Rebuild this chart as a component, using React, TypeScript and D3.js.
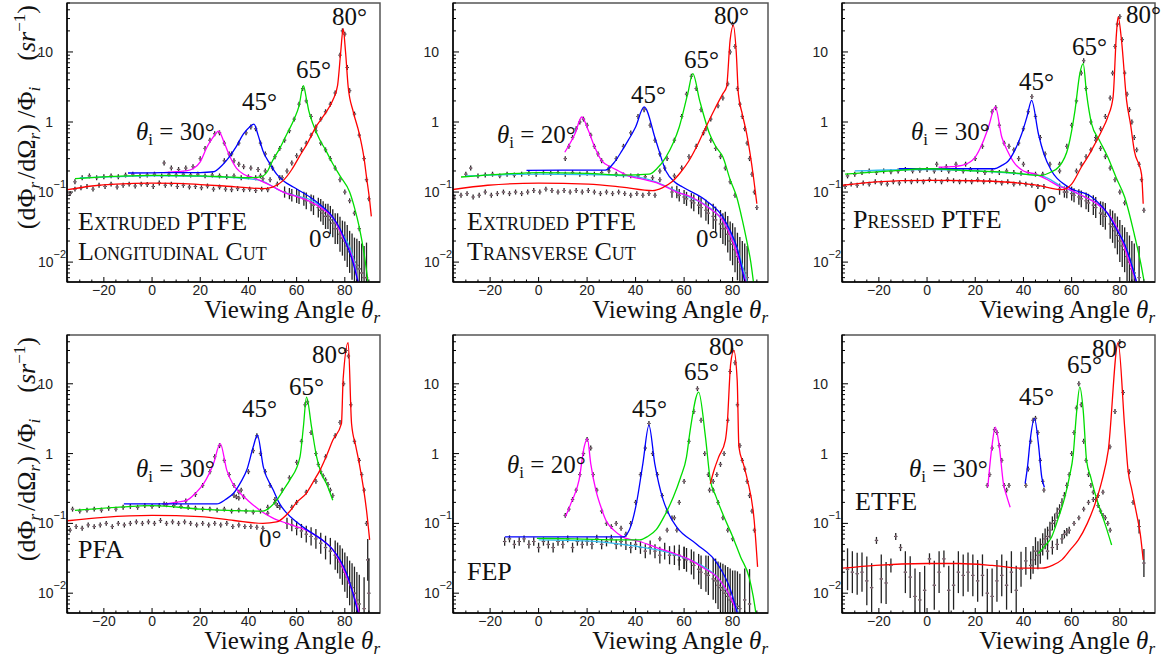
import React from 'react';
import * as d3 from 'd3';

type XY = [number, number];
type Pt = number[]; // [x, y, errDecades?]

// ---------------- DATA ----------------
const X_TICKS = [-20, 0, 20, 40, 60, 80];
const Y_TICKS = [
  { v: 10, base: '10', exp: '' },
  { v: 1, base: '1', exp: '' },
  { v: 0.1, base: '10', exp: '−1' },
  { v: 0.01, base: '10', exp: '−2' },
];
const X_DOMAIN: [number, number] = [-35.3, 94.6];
const Y_DOMAIN: [number, number] = [0.0052, 50];

// ---- Panel 1: Extruded PTFE, longitudinal cut ----
const LONG_C0: XY[] = [[-30,0.16],[-10,0.168],[0,0.17],[20,0.168],[35,0.16],[45,0.146],[54.5,0.1],[60,0.088],[66,0.077],[72,0.055],[75,0.042],[79,0.025],[82,0.0165],[84,0.01],[85.5,0.0052]];
const LONG_C30: XY[] = [[4.8,0.19],[10,0.195],[14,0.2],[17,0.215],[20,0.27],[22.8,0.44],[25.5,0.62],[27.6,0.74],[30,0.5],[32.4,0.316],[35,0.22],[38,0.18],[42,0.16],[45,0.146],[50,0.12],[54.5,0.1],[60,0.086],[65,0.075],[70,0.06],[75,0.043],[80,0.02],[83,0.012],[85.5,0.0052]];
const LONG_C45: XY[] = [[-10,0.187],[0,0.188],[10,0.19],[20,0.19],[25.5,0.195],[29,0.24],[32,0.316],[35,0.45],[38,0.68],[40.5,0.85],[42.3,0.93],[44,0.65],[46,0.39],[49,0.25],[51.7,0.18],[55,0.14],[58.6,0.118],[65.5,0.085],[70,0.065],[75,0.044],[78,0.03],[80.7,0.018],[83,0.011],[85.5,0.0052]];
const LONG_C65: XY[] = [[-32,0.155],[-20,0.165],[-10,0.17],[0,0.173],[10,0.172],[20,0.17],[30,0.165],[40,0.16],[45,0.165],[48,0.2],[50,0.28],[53,0.42],[56,0.68],[59,1.1],[61,1.7],[62.8,3.3],[64,2.2],[65,1.47],[67,0.9],[69.7,0.55],[72,0.4],[75,0.254],[78,0.17],[82,0.1],[84,0.06],[86,0.0316],[88,0.0132],[89.7,0.005]];
const LONG_C80: XY[] = [[-35,0.108],[-25,0.122],[-15,0.13],[0,0.134],[10,0.133],[20,0.128],[30,0.122],[40,0.115],[46,0.112],[50,0.118],[54.5,0.147],[58,0.21],[61,0.316],[64.5,0.5],[68,0.85],[72,1.35],[75,2.04],[77,3.34],[78.3,10],[79.3,21.5],[80.3,10],[81.4,3.16],[83.5,1.4],[86,0.68],[88,0.3],[89,0.164],[90.3,0.076],[91,0.045]];
const LONG_P_LOW: Pt[] = [[-34,0.095],[-32,0.11],[-29.5,0.115],[-27,0.12],[-24.5,0.11],[-22,0.125],[-19.5,0.12],[-17,0.13],[-14.5,0.118],[-12,0.125],[-9.5,0.13],[-7,0.122],[-4.5,0.13],[-2,0.128],[0.5,0.12],[3,0.135],[5.5,0.125],[8,0.13],[10.5,0.12],[13,0.125],[15.5,0.118],[18,0.12],[20.5,0.115],[23,0.122],[25.5,0.11],[28,0.118],[30.5,0.11],[33,0.108],[35.5,0.112],[38,0.108],[40.5,0.11],[43,0.105],[45.5,0.11],[48,0.108]];
const LONG_P_UP: Pt[] = [[-32,0.14],[-29,0.16],[-26,0.17],[-23,0.16],[-20,0.165],[-17,0.17],[-14,0.165],[-11,0.175],[-8,0.18],[-5,0.17],[-2,0.175],[1,0.18],[4,0.17],[7,0.18],[10,0.175],[13,0.18],[16,0.175],[19,0.18],[22,0.17],[25,0.175],[28,0.17],[31,0.165],[34,0.17],[37,0.16],[40,0.165],[43,0.16],[46,0.155],[49,0.15]];
const LONG_P30: Pt[] = [[5,0.26],[8,0.22],[11,0.21],[14,0.22],[17,0.23],[20,0.3],[22,0.42],[24,0.55],[26,0.68],[28,0.7],[30,0.5],[32,0.35],[34,0.28],[36,0.25],[38,0.23],[41,0.22],[44,0.21]];
const LONG_P45: Pt[] = [[30,0.28],[33,0.35],[36,0.5],[39,0.7],[41,0.85],[43,0.8],[45,0.5],[47,0.35],[50,0.22],[53,0.16]];
const LONG_P65: Pt[] = [[45,0.17],[47,0.2],[49,0.25],[51,0.32],[53,0.42],[55,0.55],[57,0.75],[59,1.1],[61,1.8],[62.5,3],[64,2],[66,1.2],[68,0.75],[70,0.5],[72,0.4],[74,0.3],[76,0.22],[78,0.15],[80,0.1],[82,0.075],[84,0.05],[86,0.03]];
const LONG_P80: Pt[] = [[52,0.13],[54,0.16],[56,0.2],[58,0.26],[60,0.33],[62,0.4],[64,0.5],[66,0.65],[68,0.85],[70,1.1],[72,1.4],[74,1.8],[76,2.6],[78,9],[79,20],[80,18],[81,6],[82,2.8],[84,1.3],[86,0.65],[88,0.3],[89,0.15],[90,0.08]];
const LONG_P_TAIL: Pt[] = [[55,0.1,0.08],[57,0.095,0.08],[58,0.09,0.09],[60,0.088,0.1],[61,0.085,0.1],[63,0.08,0.1],[64,0.075,0.12],[66,0.07,0.12],[67,0.065,0.14],[69,0.06,0.14],[70,0.055,0.16],[71,0.05,0.17],[72,0.045,0.18],[73,0.045,0.18],[74,0.04,0.2],[75,0.036,0.2],[76,0.03,0.22],[77,0.03,0.22],[78,0.025,0.25],[79,0.022,0.25],[80,0.02,0.28],[81,0.017,0.3],[82,0.014,0.3],[83,0.012,0.33],[84,0.01,0.35],[85,0.009,0.38],[86,0.008,0.4],[87,0.007,0.42],[88,0.006,0.45],[89,0.006,0.5]];

// ---- Panel 2: Extruded PTFE, transverse cut ----
const TRANS_C0: XY[] = [[-30,0.17],[0,0.18],[20,0.178],[37,0.17],[48.3,0.14],[55,0.11],[62,0.085],[69,0.065],[76,0.039],[80,0.022],[81.7,0.0165],[84,0.009],[86,0.0052]];
const TRANS_C20: XY[] = [[10.8,0.37],[15,0.68],[17.8,1.18],[20.5,0.76],[23,0.45],[26,0.28],[29.6,0.23],[33,0.2],[37,0.17],[42,0.155],[50,0.13],[57,0.1],[63,0.085],[70,0.06],[76,0.039],[80,0.02],[83,0.01],[85.5,0.0052]];
const TRANS_C45: XY[] = [[-5,0.204],[10,0.205],[27.5,0.205],[31,0.26],[34.4,0.39],[37,0.55],[40,0.85],[43.5,1.64],[48.3,0.55],[52.5,0.2],[56,0.14],[59.4,0.118],[69,0.076],[76,0.044],[79,0.028],[81.7,0.0165],[85,0.0052]];
const TRANS_C65: XY[] = [[-32,0.164],[-15,0.18],[0,0.19],[20.5,0.185],[34.4,0.175],[45.5,0.18],[49,0.22],[52.5,0.316],[55.5,0.5],[58,0.85],[61.5,2.54],[63.6,4.9],[66.4,2.04],[70.5,0.68],[73,0.45],[76,0.316],[79,0.15],[81.7,0.085],[84,0.04],[85.8,0.0204],[87.5,0.01],[88.6,0.0052]];
const TRANS_C80: XY[] = [[-36,0.108],[-21,0.125],[0,0.134],[20.5,0.13],[34.4,0.118],[47,0.105],[51,0.115],[55,0.14],[58.5,0.19],[62,0.28],[65.5,0.47],[69,0.85],[72.5,1.5],[76,2.54],[77.5,3.16],[79,15],[80.3,24],[81.5,10],[82.4,2.5],[84,1.3],[85.8,0.68],[88.6,0.164],[90,0.068]];
const TRANS_P_LOW: Pt[] = [[-35,0.085],[-32,0.09],[-29.5,0.095],[-27,0.085],[-24.5,0.09],[-22,0.1],[-19.5,0.09],[-17,0.095],[-14.5,0.1],[-12,0.095],[-9.5,0.1],[-7,0.095],[-4.5,0.1],[-2,0.105],[0.5,0.1],[3,0.11],[5.5,0.105],[8,0.1],[10.5,0.105],[13,0.1],[15.5,0.105],[18,0.1],[20.5,0.105],[23,0.1],[25.5,0.095],[28,0.1],[30.5,0.095],[33,0.1],[35.5,0.095],[38,0.09],[40.5,0.095],[43,0.09],[45.5,0.095],[48,0.09]];
const TRANS_P_UP: Pt[] = [[-30,0.18],[-28,0.22],[-25,0.17],[-22,0.175],[-19,0.18],[-16,0.17],[-13,0.18],[-10,0.175],[-7,0.18],[-4,0.185],[-1,0.18],[2,0.19],[5,0.185],[8,0.19],[11,0.18],[14,0.19],[17,0.18],[20,0.185],[23,0.18],[26,0.19],[29,0.2],[32,0.18],[35,0.175],[38,0.17],[41,0.17],[44,0.165],[47,0.16],[50,0.15]];
const TRANS_P20: Pt[] = [[11,0.3],[12.5,0.45],[14,0.6],[15.5,0.8],[17,1.0],[18.5,1.1],[20,0.9],[21.5,0.65],[23,0.45],[24.5,0.35],[26,0.28]];
const TRANS_P45: Pt[] = [[29,0.22],[32,0.3],[35,0.45],[38,0.7],[41,1.2],[43.5,1.5],[46,0.9],[48,0.55],[50,0.35],[52,0.22]];
const TRANS_P65: Pt[] = [[50,0.2],[53,0.3],[56,0.55],[59,1.2],[61,2.5],[63,4.5],[65,3],[67,1.5],[69,0.8],[71,0.55],[73,0.42],[75,0.32],[77,0.22],[79,0.14],[81,0.09]];
const TRANS_P80: Pt[] = [[56,0.17],[59,0.22],[62,0.32],[65,0.45],[68,0.7],[71,1.1],[74,1.7],[76,2.2],[78,3.5],[79,10],[80,25],[81,12],[82,3],[83,1.8],[84,1.2],[85,0.8],[86,0.5],[87,0.3],[88,0.18],[89,0.1],[90,0.06]];
const TRANS_P_TAIL: Pt[] = [[55,0.1,0.08],[57,0.1,0.09],[58,0.09,0.09],[60,0.085,0.1],[61,0.08,0.1],[63,0.075,0.11],[64,0.07,0.12],[66,0.065,0.13],[67,0.06,0.14],[69,0.055,0.15],[70,0.05,0.16],[72,0.045,0.18],[73,0.04,0.19],[75,0.035,0.2],[76,0.03,0.22],[77,0.03,0.24],[78,0.025,0.26],[79,0.02,0.28],[80,0.018,0.3],[81,0.015,0.32],[82,0.012,0.34],[83,0.01,0.36],[84,0.008,0.4],[85,0.007,0.42],[86,0.006,0.45]];

// ---- Panel 3: Pressed PTFE ----
const PRESS_C0: XY[] = [[-30,0.2],[0,0.21],[20,0.2],[40,0.18],[47.6,0.17],[55.9,0.12],[64,0.09],[70,0.07],[75,0.049],[79,0.03],[82,0.018],[86,0.007],[86.9,0.0052]];
const PRESS_C30: XY[] = [[4.8,0.226],[10,0.23],[14.5,0.24],[20,0.316],[23,0.5],[25.5,0.85],[28.3,1.64],[31,0.61],[33.5,0.38],[36.6,0.25],[40,0.2],[45,0.18],[50,0.15],[55,0.12],[58.6,0.11],[64,0.09],[70,0.07],[75,0.05],[80,0.025],[84,0.01],[86.9,0.0052]];
const PRESS_C45: XY[] = [[-11.7,0.215],[10,0.215],[28,0.215],[31,0.24],[33.8,0.28],[36.5,0.4],[39.3,0.68],[41.5,1.2],[43.4,2.04],[46.2,0.68],[48.5,0.35],[51.7,0.2],[58.6,0.118],[68.3,0.085],[75,0.049],[79,0.028],[82,0.018],[85,0.009],[86.9,0.0052]];
const PRESS_C65: XY[] = [[-34,0.18],[-15,0.2],[0,0.215],[20,0.2],[34,0.19],[47.6,0.173],[51,0.19],[54.5,0.226],[58.6,0.44],[61.4,1.47],[63.4,4.9],[64.8,6.8],[66.2,2.54],[68.3,0.94],[71.5,0.55],[75,0.316],[78.5,0.16],[82,0.085],[86,0.025],[89,0.0085],[90,0.0055]];
const PRESS_C80: XY[] = [[-35,0.125],[-21,0.14],[0,0.147],[20,0.145],[34,0.138],[46,0.125],[55.9,0.108],[60,0.13],[64,0.226],[67,0.33],[69.7,0.49],[72.5,0.75],[75,1.18],[77.2,2.27],[78.6,18.3],[79.3,31.6],[80.7,14.7],[82.8,2.04],[84.5,0.9],[86,0.39],[89,0.18],[89.7,0.068]];
const PRESS_P_LOW: Pt[] = [[-34,0.12],[-31.5,0.13],[-29,0.125],[-26.5,0.135],[-24,0.13],[-21.5,0.14],[-19,0.135],[-16.5,0.13],[-14,0.14],[-11.5,0.135],[-9,0.145],[-6.5,0.14],[-4,0.145],[-1.5,0.14],[1,0.15],[3.5,0.145],[6,0.14],[8.5,0.15],[11,0.145],[13.5,0.14],[16,0.145],[18.5,0.14],[21,0.15],[23.5,0.14],[26,0.145],[28.5,0.14],[31,0.135],[33.5,0.14],[36,0.13],[38.5,0.135],[41,0.13],[43.5,0.125],[46,0.12],[48.5,0.12]];
const PRESS_P_UP: Pt[] = [[-33,0.17],[-30,0.18],[-27,0.19],[-24,0.2],[-21,0.19],[-18,0.2],[-15,0.195],[-12,0.2],[-9,0.21],[-6,0.2],[-3,0.205],[0,0.21],[3,0.2],[6,0.21],[9,0.2],[12,0.21],[15,0.2],[18,0.21],[21,0.2],[24,0.19],[27,0.2],[30,0.19],[33,0.2],[36,0.19],[39,0.185],[42,0.19],[45,0.18],[48,0.18]];
const PRESS_P30: Pt[] = [[4,0.25],[8,0.23],[12,0.25],[16,0.25],[20,0.3],[23,0.45],[25,0.8],[27,1.4],[28.5,1.6],[30,0.9],[32,0.5],[34,0.45],[36,0.4],[38,0.3],[40,0.25]];
const PRESS_P45: Pt[] = [[38,0.5],[40,0.8],[42,1.4],[43.5,2.3],[45,1.2],[47,0.6],[49,0.35],[51,0.25],[55,0.2]];
const PRESS_P65: Pt[] = [[55,0.25],[58,0.45],[60,0.9],[62,2],[64,5],[65,7.5],[66,3],[68,1],[70,0.6],[72,0.42],[74,0.32],[76,0.22],[78,0.15],[80,0.1],[82,0.07]];
const PRESS_P80: Pt[] = [[62,0.2],[64,0.25],[66,0.32],[68,0.4],[70,0.55],[72,0.8],[74,1.2],[76,2.2],[77,5],[78,12],[79,25],[80,32],[81,15],[82,5],[83,2.5],[84,1.5],[85,1],[86,0.6],[87,0.4],[88,0.25],[89,0.15],[90,0.055]];
const PRESS_P_TAIL: Pt[] = [[55,0.11,0.08],[57,0.1,0.08],[58,0.1,0.09],[60,0.095,0.1],[61,0.09,0.1],[63,0.085,0.11],[64,0.08,0.12],[66,0.075,0.12],[67,0.07,0.13],[69,0.065,0.14],[70,0.06,0.15],[72,0.05,0.17],[73,0.048,0.18],[74,0.045,0.19],[76,0.035,0.21],[77,0.032,0.23],[78,0.028,0.25],[79,0.024,0.27],[80,0.02,0.3],[81,0.017,0.3],[82,0.015,0.32],[83,0.012,0.35],[84,0.01,0.38],[85,0.008,0.4],[86,0.007,0.42],[88,0.006,0.45]];

// ---- Panel 4: PFA ----
const PFA_C30: XY[] = [[4.8,0.19],[10,0.2],[14.5,0.215],[18,0.27],[21.4,0.37],[25.5,0.72],[28.3,1.39],[31,0.58],[33.5,0.37],[36.6,0.27],[40,0.21],[45,0.152],[50,0.12],[55.9,0.1],[64,0.08],[70,0.06],[75,0.042],[80,0.02],[83,0.011],[86,0.0052]];
const PFA_C45: XY[] = [[-11.7,0.19],[10,0.19],[26.9,0.19],[30.5,0.22],[33.8,0.27],[37,0.4],[39.3,0.58],[42,1.25],[43.7,1.83],[46.2,0.64],[50.3,0.3],[53,0.19],[55.9,0.14],[60,0.105],[64,0.082],[70,0.06],[75,0.042],[78,0.03],[80.7,0.0193],[83,0.011],[85.5,0.0052]];
const PFA_C65: XY[] = [[-32,0.154],[-15,0.17],[0,0.18],[20,0.16],[34.4,0.152],[46,0.15],[49,0.17],[51.7,0.215],[55,0.32],[57.2,0.42],[61.4,0.9],[62.8,2.4],[64.1,6.45],[66.2,2.4],[68.3,0.9],[70,0.55],[72.4,0.37],[75,0.215]];
const PFA_C80: XY[] = [[-35,0.109],[-20,0.122],[0,0.13],[20,0.125],[34,0.11],[46,0.1],[51.7,0.105],[57,0.147],[60,0.2],[64,0.27],[67,0.4],[69.7,0.58],[72.5,0.95],[75,1.55],[78.6,2.68],[79.3,11.6],[81.4,39],[82.8,2.68],[84.5,1.3],[86,0.72],[89,0.154],[90.3,0.058]];
const PFA_P_LOW: Pt[] = [[-34,0.08],[-31.5,0.09],[-29,0.085],[-26.5,0.095],[-24,0.09],[-21.5,0.095],[-19,0.1],[-16.5,0.09],[-14,0.1],[-11.5,0.095],[-9,0.1],[-6.5,0.105],[-4,0.1],[-1.5,0.105],[1,0.1],[3.5,0.11],[6,0.1],[8.5,0.105],[11,0.1],[13.5,0.105],[16,0.1],[18.5,0.095],[21,0.1],[23.5,0.095],[26,0.1],[28.5,0.095],[31,0.1],[33.5,0.09],[36,0.095],[38.5,0.09],[41,0.09],[43.5,0.088],[46,0.085]];
const PFA_P_UP: Pt[] = [[-33,0.16],[-30,0.15],[-27,0.155],[-24,0.16],[-21,0.155],[-18,0.165],[-15,0.16],[-12,0.17],[-9,0.175],[-6,0.17],[-3,0.18],[0,0.175],[3,0.18],[6,0.185],[9,0.18],[12,0.175],[15,0.17],[18,0.165],[21,0.16],[24,0.16],[27,0.155],[30,0.16],[33,0.15],[36,0.155],[39,0.15],[42,0.145],[45,0.15],[48,0.14]];
const PFA_P30: Pt[] = [[5,0.19],[10,0.2],[14,0.21],[18,0.26],[21,0.35],[24,0.55],[26,0.9],[28,1.3],[30,0.8],[32,0.5],[34,0.35],[36,0.28],[38,0.24]];
const PFA_P45: Pt[] = [[34,0.25],[35,0.24],[36,0.23],[37,0.3],[40,0.55],[42,1.1],[43.5,1.8],[45,1.0],[47,0.55],[49,0.35],[51,0.22],[52,0.18],[53,0.17]];
const PFA_P65: Pt[] = [[48,0.17],[51,0.2],[52,0.18],[54,0.3],[57,0.45],[60,0.75],[62,1.5],[63.5,5],[64.5,5.5],[66,2],[68,1],[69,0.7],[70,0.55],[71,0.48],[72,0.42],[73,0.36],[74,0.3],[75,0.25]];
const PFA_P80: Pt[] = [[58,0.17],[60,0.2],[64,0.28],[68,0.4],[72,0.9],[76,1.8],[78,2.8],[79.5,10],[80.5,30],[81.5,25],[82.5,5],[84,1.5],[86,0.8],[87,0.5],[88,0.3],[89,0.1],[89.5,0.03,0.3],[90,0.01,0.5]];
const PFA_P_TAIL: Pt[] = [[56,0.1,0.08],[58,0.095,0.09],[60,0.085,0.1],[62,0.078,0.1],[64,0.07,0.12],[66,0.065,0.13],[68,0.06,0.14],[70,0.052,0.15],[72,0.045,0.17],[74,0.04,0.19],[76,0.035,0.21],[77,0.032,0.22],[78,0.028,0.24],[79,0.024,0.26],[80,0.02,0.28],[81,0.017,0.3],[82,0.014,0.32],[83,0.012,0.35],[84,0.01,0.38],[85,0.008,0.4],[86,0.007,0.42],[88,0.006,0.45]];

// ---- Panel 5: FEP ----
const FEP_C0: XY[] = [[0,0.058],[20,0.056],[34.7,0.05],[48.6,0.042],[55,0.037],[62.5,0.03],[68,0.024],[73.6,0.017],[79.2,0.0087],[82.5,0.0052]];
const FEP_C20: XY[] = [[11.1,0.125],[13.5,0.2],[16.7,0.42],[18.8,1.25],[20.1,1.64],[21.5,0.72],[23.6,0.3],[25.5,0.18],[27.8,0.11],[31,0.08],[34.7,0.064],[41.7,0.055],[48.6,0.045],[55,0.038],[62.5,0.03],[68,0.023],[73.6,0.017],[79.2,0.0087],[82,0.0052]];
const FEP_C45: XY[] = [[-13.9,0.064],[10,0.064],[34.7,0.064],[37.5,0.082],[40.3,0.19],[43,0.72],[45.5,2.54],[47.9,0.72],[51.4,0.215],[54,0.13],[56.9,0.089],[65.3,0.05],[73.6,0.0268],[79.2,0.011],[81.9,0.0052]];
const FEP_C65: XY[] = [[-0.7,0.061],[15,0.06],[34.7,0.058],[41.7,0.058],[45,0.065],[48.6,0.082],[52,0.13],[55.6,0.24],[58.5,0.45],[61,0.9],[62.5,2.15],[66,7.6],[68.8,1.74],[70.8,0.42],[73,0.25],[76.4,0.125],[80,0.065],[83.3,0.033],[86.8,0.017],[88.5,0.009],[89.6,0.0052]];
const FEP_C80: XY[] = [[70.8,0.37],[72.5,0.6],[74.3,0.9],[77,1.55],[77.8,2.68],[79.2,19.3],[80.5,30],[81.9,11.2],[82.6,1.25],[84.5,0.7],[86.1,0.42],[88.9,0.11],[90.3,0.0238]];
const FEP_P_FLAT: Pt[] = [[-14,0.055,0.06],[-12,0.06,0.05],[-10,0.05,0.06],[-8,0.055,0.06],[-6,0.06,0.05],[-4,0.05,0.06],[-2,0.055,0.06],[0,0.045,0.07],[2,0.055,0.06],[4,0.05,0.06],[6,0.045,0.07],[8,0.055,0.06],[10,0.05,0.06],[12,0.06,0.05],[14,0.045,0.07],[16,0.055,0.06],[18,0.05,0.06],[20,0.055,0.06],[22,0.05,0.07],[24,0.06,0.06],[26,0.05,0.07],[28,0.055,0.07],[30,0.06,0.06],[32,0.05,0.07],[34,0.055,0.07],[36,0.05,0.08],[38,0.045,0.08],[40,0.05,0.08],[42,0.045,0.09],[44,0.04,0.1],[46,0.045,0.1],[48,0.04,0.1],[50,0.035,0.12],[52,0.04,0.12],[54,0.035,0.13],[56,0.035,0.14],[58,0.03,0.15],[60,0.032,0.16]];
const FEP_P20: Pt[] = [[11,0.13],[12.5,0.16],[14,0.22],[15.5,0.3],[17,0.5],[18.5,1],[20,1.6],[21.5,1.2],[22.5,0.5],[24,0.3],[26,0.15],[28,0.1],[30,0.09],[32,0.1],[34,0.085]];
const FEP_P45: Pt[] = [[36,0.07],[38,0.1],[40,0.2],[42,0.5],[44,1.2],[45.5,2.7],[47,1],[49,0.5],[51,0.25],[53,0.15],[55,0.12],[57,0.08]];
const FEP_P65: Pt[] = [[50,0.06],[53,0.08],[56,0.12],[58,0.2],[60,0.4],[62,1.5],[64,4],[65.5,8.5],[67,3],[68.5,1],[70,0.5],[72,0.3],[74,0.2],[76,0.12],[78,0.08],[80,0.06]];
const FEP_P80: Pt[] = [[70.5,0.3],[72,0.4],[73.5,0.5],[75,0.7],[76.5,1],[78,3],[79,15],[80,30],[81,20],[82,5],[83,1.3],[84,0.8],[85,0.6],[86,0.4],[87,0.25],[88,0.15],[89,0.08]];
const FEP_P_TAIL: Pt[] = [[58,0.035,0.15],[60,0.032,0.16],[61,0.03,0.17],[63,0.028,0.18],[64,0.025,0.2],[66,0.022,0.22],[67,0.02,0.24],[69,0.019,0.26],[70,0.018,0.28],[72,0.016,0.3],[73,0.015,0.32],[74,0.013,0.34],[75,0.012,0.36],[76,0.011,0.38],[77,0.01,0.4],[78,0.009,0.42],[79,0.008,0.45],[80,0.0075,0.45],[81,0.007,0.48],[82,0.0065,0.5],[83,0.006,0.5],[85,0.008,0.45],[87,0.007,0.5]];

// ---- Panel 6: ETFE ----
const ETFE_C30: XY[] = [[25.2,0.33],[26.9,1.25],[28.3,2.4],[30,1.25],[31.7,0.37],[33,0.25],[34.5,0.17]];
const ETFE_C45: XY[] = [[40.7,0.37],[41.8,0.7],[42.8,1.55],[44.6,3.16],[46.2,1.39],[47.6,0.46],[48.7,0.33]];
const ETFE_C65: XY[] = [[46.2,0.037],[49,0.048],[51.7,0.064],[54.5,0.12],[57.2,0.24],[59,0.45],[60.7,1],[62,3.7],[63.4,8.96],[64.8,4.16],[66.2,0.8],[68,0.45],[69.7,0.27],[71.5,0.17],[73.8,0.1],[76.6,0.049]];
const ETFE_C80: XY[] = [[-35,0.0228],[-21.4,0.0251],[0,0.0266],[13,0.0266],[27,0.025],[39.3,0.0228],[47.6,0.0228],[52,0.025],[55.9,0.03],[59.5,0.042],[62.8,0.058],[66.5,0.1],[69.7,0.19],[72.5,0.4],[75.2,1.11],[79.3,39],[82,2.4],[83.4,0.58],[85,0.3],[86.9,0.14],[88.5,0.07],[89.7,0.03]];
const ETFE_P_FLAT: Pt[] = [[-33,0.022,0.3],[-31,0.02,0.3],[-29,0.019,0.3],[-27,0.02,0.28],[-25,0.015,0.35],[-23,0.012,0.35],[-21,0.057,0.05],[-19,0.016,0.35],[-17,0.014,0.3],[-15,0.025,0.1],[-13,0.065,0.05],[-11,0.045,0.05],[-9,0.02,0.3],[-7,0.017,0.3],[-5,0.009,0.4],[-3,0.008,0.4],[-1,0.011,0.35],[1,0.031,0.08],[3,0.013,0.35],[5,0.02,0.3],[7,0.031,0.12],[9,0.011,0.35],[11,0.013,0.35],[13,0.02,0.3],[15,0.018,0.3],[17,0.02,0.28],[19,0.018,0.3],[21,0.015,0.3],[23,0.018,0.3],[25,0.01,0.35],[27,0.009,0.4],[29,0.015,0.3],[31,0.018,0.3],[33,0.013,0.35],[35,0.02,0.3],[37,0.011,0.35],[39,0.022,0.25],[41,0.029,0.2],[43,0.025,0.2]];
const ETFE_P30: Pt[] = [[25,0.35],[26,0.5],[27,1.2],[28,2.2],[29,2],[30,1.3],[31,0.8],[32,0.35],[33,0.3],[34,0.35]];
const ETFE_P45: Pt[] = [[41,0.35],[42,0.6],[43,1.5],[44,3],[45,3.2],[46,2],[47,0.8],[48,0.4],[48.5,0.3]];
const ETFE_P65: Pt[] = [[44,0.03,0.2],[45,0.04,0.2],[46,0.035,0.2],[47,0.04,0.18],[48,0.05,0.16],[49,0.06,0.15],[50,0.065,0.14],[51,0.08,0.12],[52,0.1,0.1],[53,0.11,0.1],[54,0.14,0.08],[55,0.16,0.07],[56,0.2,0.06],[57,0.25,0.05],[58,0.35,0.04],[59,0.5],[60,1],[61,2],[62,4.5],[63,10],[64,5],[65,1.5],[66,0.8],[67,0.5],[68,0.35],[69,0.28],[70,0.22],[71,0.18],[72,0.15],[73,0.13],[74,0.12],[75,0.1],[76,0.08]];
const ETFE_P80: Pt[] = [[50,0.04,0.12],[52,0.045,0.1],[54,0.05,0.08],[56,0.06,0.07],[57,0.07,0.06],[58,0.075,0.06],[59,0.08,0.05],[61,0.1],[63,0.12],[65,0.16],[67,0.2],[69,0.22],[71,0.25],[73,0.28],[75.9,1.25],[78,4],[80,40],[81.4,7.5],[83.9,0.55],[85.5,0.2],[88,0.09,0.1],[90,0.027,0.2]];

// ---------------- LAYOUT / STYLE ----------------
const W = 1175, H = 660;
const COLS: [number, number][] = [[67, 380], [453, 768], [842, 1155]];
const ROWS: [number, number][] = [[3, 282], [335, 613]];
const COLORS: Record<string, string> = { c0: '#33bbee', ci: '#ff00ff', c45: '#0000ff', c65: '#00dd00', c80: '#ff0000' };
const SERIF = "'Liberation Serif', 'Times New Roman', serif";
const SANS = "'Liberation Sans', Arial, Helvetica, sans-serif";
const DEF_ERR = 0.035;

type Curve = { key: string; data: XY[] };
type PanelDef = {
  col: number; row: number; material: string[]; smallCaps: boolean; incident: string;
  curves: Curve[]; points: Pt[][]; showZero: boolean;
};

const PANELS: PanelDef[] = [
  { col: 0, row: 0, material: ['Extruded PTFE', 'Longitudinal Cut'], smallCaps: true, incident: '30', showZero: true,
    curves: [{ key: 'c0', data: LONG_C0 }, { key: 'ci', data: LONG_C30 }, { key: 'c45', data: LONG_C45 }, { key: 'c65', data: LONG_C65 }, { key: 'c80', data: LONG_C80 }],
    points: [LONG_P_LOW, LONG_P_UP, LONG_P30, LONG_P45, LONG_P65, LONG_P80, LONG_P_TAIL] },
  { col: 1, row: 0, material: ['Extruded PTFE', 'Transverse Cut'], smallCaps: true, incident: '20', showZero: true,
    curves: [{ key: 'c0', data: TRANS_C0 }, { key: 'ci', data: TRANS_C20 }, { key: 'c45', data: TRANS_C45 }, { key: 'c65', data: TRANS_C65 }, { key: 'c80', data: TRANS_C80 }],
    points: [TRANS_P_LOW, TRANS_P_UP, TRANS_P20, TRANS_P45, TRANS_P65, TRANS_P80, TRANS_P_TAIL] },
  { col: 2, row: 0, material: ['Pressed PTFE'], smallCaps: true, incident: '30', showZero: true,
    curves: [{ key: 'c0', data: PRESS_C0 }, { key: 'ci', data: PRESS_C30 }, { key: 'c45', data: PRESS_C45 }, { key: 'c65', data: PRESS_C65 }, { key: 'c80', data: PRESS_C80 }],
    points: [PRESS_P_LOW, PRESS_P_UP, PRESS_P30, PRESS_P45, PRESS_P65, PRESS_P80, PRESS_P_TAIL] },
  { col: 0, row: 1, material: ['PFA'], smallCaps: false, incident: '30', showZero: true,
    curves: [{ key: 'ci', data: PFA_C30 }, { key: 'c45', data: PFA_C45 }, { key: 'c65', data: PFA_C65 }, { key: 'c80', data: PFA_C80 }],
    points: [PFA_P_LOW, PFA_P_UP, PFA_P30, PFA_P45, PFA_P65, PFA_P80, PFA_P_TAIL] },
  { col: 1, row: 1, material: ['FEP'], smallCaps: false, incident: '20', showZero: false,
    curves: [{ key: 'c0', data: FEP_C0 }, { key: 'ci', data: FEP_C20 }, { key: 'c45', data: FEP_C45 }, { key: 'c65', data: FEP_C65 }, { key: 'c80', data: FEP_C80 }],
    points: [FEP_P_FLAT, FEP_P20, FEP_P45, FEP_P65, FEP_P80, FEP_P_TAIL] },
  { col: 2, row: 1, material: ['ETFE'], smallCaps: false, incident: '30', showZero: false,
    curves: [{ key: 'ci', data: ETFE_C30 }, { key: 'c45', data: ETFE_C45 }, { key: 'c65', data: ETFE_C65 }, { key: 'c80', data: ETFE_C80 }],
    points: [ETFE_P_FLAT, ETFE_P30, ETFE_P45, ETFE_P65, ETFE_P80] },
];

// annotation placement: [dx from frame left, baseline dy from frame top]
const LABEL_POS: Record<string, [number, number]>[] = [
  { a80: [265, 22], a65: [229, 75], a45: [175, 107], ai: [69, 137], a0: [242, 244], mat: [11, 227] },
  { a80: [261, 21], a65: [231, 65], a45: [178, 100], ai: [44, 140], a0: [243, 244], mat: [14, 227] },
  { a80: [284, 20], a65: [230, 52], a45: [177, 87], ai: [69, 137], a0: [192, 209], mat: [11, 225] },
  { a80: [245, 28], a65: [222, 60], a45: [175, 82], ai: [69, 142], a0: [192, 212], mat: [11, 223] },
  { a80: [256, 20], a65: [231, 45], a45: [179, 82], ai: [54, 138], a0: [0, 0], mat: [14, 245] },
  { a80: [250, 22], a65: [225, 38], a45: [177, 70], ai: [67, 142], a0: [0, 0], mat: [13, 175] },
];
const LINE_SPACING = 30;
const LABEL_SIZE = 25;
const MAT_SIZE = 26;
const SUB_SIZE = 17;

function Panel({ p, idx }: { p: PanelDef; idx: number }) {
  const [left, right] = COLS[p.col];
  const [top, bottom] = ROWS[p.row];
  const x = d3.scaleLinear().domain(X_DOMAIN).range([left, right]);
  const y = d3.scaleLog().domain(Y_DOMAIN).range([bottom, top]);
  const line = d3.line<XY>().x(d => x(d[0])).y(d => y(d[1])).curve(d3.curveMonotoneX);
  const clipId = `clip${idx}`;
  const lp = LABEL_POS[idx];

  const xMinor = d3.range(-35, 95, 5).filter(v => v >= X_DOMAIN[0] && v <= X_DOMAIN[1]);
  const yMinor: number[] = [];
  [0.001, 0.01, 0.1, 1, 10].forEach(dec => { for (let k = 2; k <= 9; k++) { const v = dec * k; if (v >= Y_DOMAIN[0] && v <= Y_DOMAIN[1]) yMinor.push(v); } });

  const deg = (s: string, pos: [number, number]) => (
    <text x={left + pos[0]} y={top + pos[1]} fontFamily={SERIF} fontSize={LABEL_SIZE} fill="#111">{s}°</text>
  );

  return (
    <g>
      <defs>
        <clipPath id={clipId}><rect x={left} y={top} width={right - left} height={bottom - top} /></clipPath>
      </defs>
      <rect x={left} y={top} width={right - left} height={bottom - top} fill="#fff" stroke="#555" strokeWidth={1.5} />
      <g clipPath={`url(#${clipId})`}>
        {p.points.map((series, si) => series.map((pt, pi) => {
          const px = x(pt[0]); const py = y(pt[1]);
          const e = pt[2] !== undefined ? pt[2] : DEF_ERR;
          const f = Math.pow(10, e);
          return (
            <g key={`${si}-${pi}`}>
              <line x1={px} x2={px} y1={y(pt[1] * f)} y2={y(pt[1] / f)} stroke="#222" strokeWidth={1.3} />
              <line x1={px - 1.7} x2={px + 1.7} y1={py} y2={py} stroke="#222" strokeWidth={1} />
              <circle cx={px} cy={py} r={1.1} fill="#8a6a7a" />
            </g>
          );
        }))}
        {p.curves.map(c => (
          <path key={c.key} d={line(c.data) || ''} fill="none" stroke={COLORS[c.key]} strokeWidth={1.3} />
        ))}
      </g>
      {/* axes */}
      <line x1={left} x2={left} y1={top} y2={bottom} stroke="#000" strokeWidth={1.5} />
      <line x1={left} x2={right} y1={bottom} y2={bottom} stroke="#000" strokeWidth={1.5} />
      {X_TICKS.map(t => (
        <g key={`xt${t}`}>
          <line x1={x(t)} x2={x(t)} y1={bottom} y2={bottom - 5} stroke="#000" strokeWidth={1} />
          <text x={x(t)} y={bottom + 13} textAnchor="middle" fontFamily={SANS} fontSize={14} fill="#222">{t < 0 ? `−${-t}` : `${t}`}</text>
        </g>
      ))}
      {xMinor.filter(v => !X_TICKS.includes(v)).map(v => (
        <line key={`xm${v}`} x1={x(v)} x2={x(v)} y1={bottom} y2={bottom - 2.5} stroke="#000" strokeWidth={1} />
      ))}
      {Y_TICKS.map(t => (
        <g key={`yt${t.v}`}>
          <line x1={left} x2={left + 6} y1={y(t.v)} y2={y(t.v)} stroke="#000" strokeWidth={1} />
          {t.exp ? (
            <text x={left - 1} y={y(t.v) + 5} textAnchor="end" fontFamily={SANS} fontSize={14} fill="#222">
              {t.base}<tspan dy={-9} fontSize={11}>{t.exp}</tspan>
            </text>
          ) : (
            <text x={left - 14} y={y(t.v) + 5} textAnchor="end" fontFamily={SANS} fontSize={14} fill="#222">{t.base}</text>
          )}
        </g>
      ))}
      {yMinor.map(v => (
        <line key={`ym${v}`} x1={left} x2={left + 3} y1={y(v)} y2={y(v)} stroke="#000" strokeWidth={1} />
      ))}
      {/* x title */}
      <text x={right} y={bottom + 36} textAnchor="end" fontFamily={SERIF} fontSize={LABEL_SIZE} fill="#111">
        Viewing Angle <tspan fontStyle="italic">θ</tspan><tspan fontStyle="italic" fontSize={SUB_SIZE} dy={5}>r</tspan>
      </text>
      {/* y title */}
      {p.col === 0 && (
        <text transform={`translate(35, ${top + 2}) rotate(-90)`} textAnchor="end" fontFamily={SERIF} fontSize={26} fill="#111">
          (dΦ<tspan fontStyle="italic" fontSize={SUB_SIZE} dy={5}>r</tspan>
          <tspan dy={-5} dx={3}>/dΩ</tspan><tspan fontStyle="italic" fontSize={SUB_SIZE} dy={5}>r</tspan>
          <tspan dy={-5}>) /Φ</tspan><tspan fontStyle="italic" fontSize={SUB_SIZE} dy={5}>i</tspan>
          <tspan dy={-5} dx={26}>(</tspan><tspan fontStyle="italic">sr</tspan><tspan fontSize={SUB_SIZE} dy={-10}>−1</tspan>
          <tspan dy={10}>)</tspan>
        </text>
      )}
      {/* annotations */}
      {deg('80', lp.a80)}
      {deg('65', lp.a65)}
      {deg('45', lp.a45)}
      <text x={left + lp.ai[0]} y={top + lp.ai[1]} fontFamily={SERIF} fontSize={LABEL_SIZE} fill="#111">
        <tspan fontStyle="italic">θ</tspan><tspan fontSize={SUB_SIZE} dy={5}>i</tspan><tspan dy={-5}> = {p.incident}°</tspan>
      </text>
      {p.showZero && deg('0', lp.a0)}
      {p.material.map((m, i) => (
        <text key={m} x={left + lp.mat[0]} y={top + lp.mat[1] + i * LINE_SPACING} fontFamily={SERIF} fontSize={MAT_SIZE} fill="#111"
          style={p.smallCaps ? { fontVariant: 'small-caps' } : undefined}>{m}</text>
      ))}
    </g>
  );
}

export default function App() {
  return (
    <svg width={W} height={H} viewBox={`0 0 ${W} ${H}`} style={{ position: 'absolute', left: 0, top: 0, background: '#fff' }}>
      <rect x={0} y={0} width={W} height={H} fill="#fff" />
      {PANELS.map((p, i) => <Panel key={i} p={p} idx={i} />)}
    </svg>
  );
}
